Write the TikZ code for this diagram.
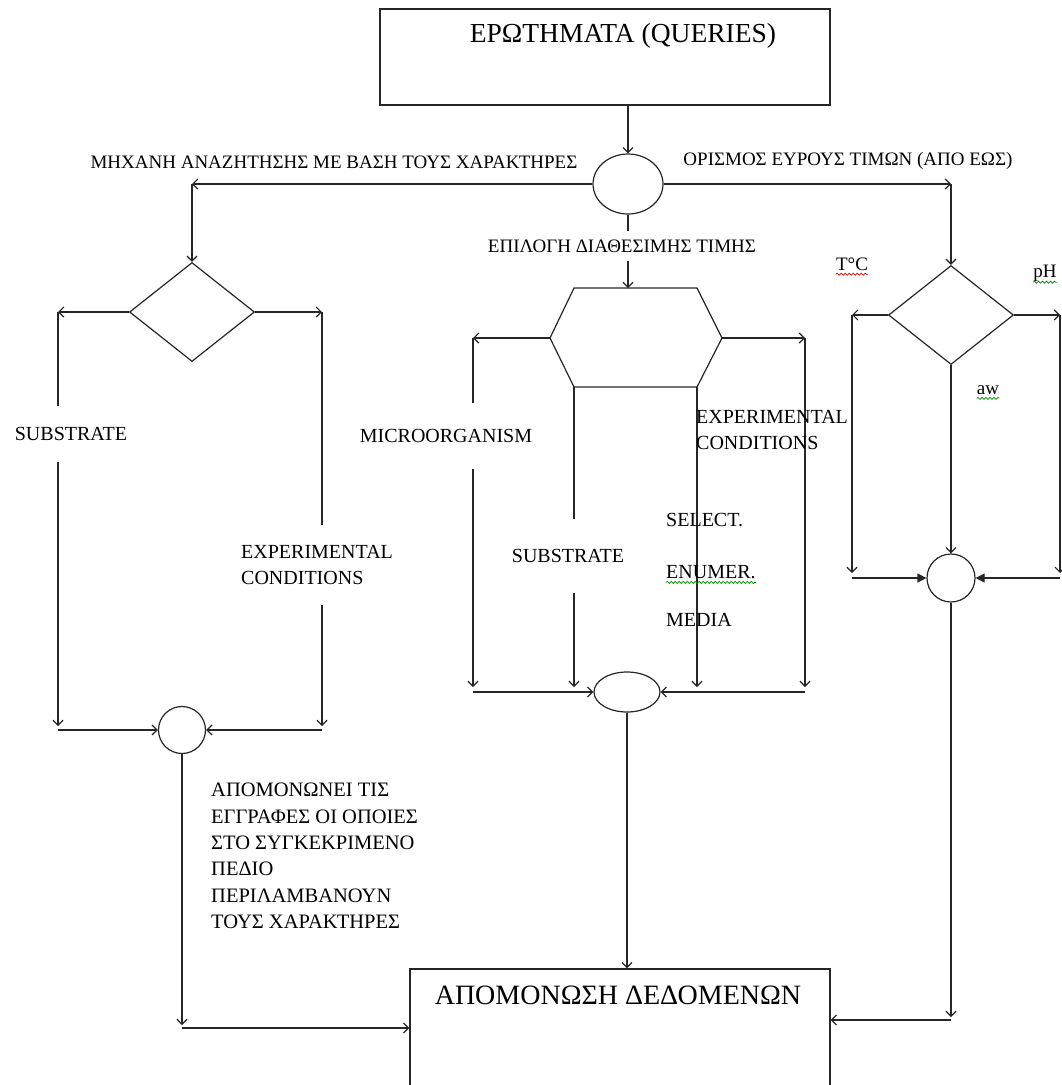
\documentclass[tikz,border=0pt]{standalone}
\usepackage{fontspec}
\setmainfont{Liberation Serif}
\usetikzlibrary{arrows.meta,shapes.geometric,calc,decorations.pathmorphing}

\begin{document}
\begin{tikzpicture}[x=1pt,y=-1pt,
  conn/.style={line width=1.2pt,draw=black!85},
  arr/.style={conn,-{Straight Barb[length=5pt,width=10pt,line width=1.2pt]}},
  arrf/.style={conn,-{Triangle[length=9pt,width=9pt]}},
  box/.style={conn,rectangle,inner sep=0pt},
  junction/.style={conn,ellipse,inner sep=0pt},
  choice/.style={conn,diamond,inner sep=0pt,minimum width=125pt,minimum height=99pt},
  lbl/.style={font=\fontsize{19}{25}\selectfont,inner sep=0pt,text=black},
  lblL/.style={font=\fontsize{20}{26}\selectfont,inner sep=0pt,text=black},
  mask/.style={fill=white},
  wavy/.style={line width=0.7pt,decorate,decoration={snake,amplitude=1.1pt,segment length=4pt}},
]
\clip (0,0) rectangle (1062,1085);
\fill[white] (0,0) rectangle (1062,1085);

% ---- start: queries box and hub
\node[box,minimum width=450pt,minimum height=96pt] (queries) at (605,57) {};
\node[font=\fontsize{27.5}{32}\selectfont] (qtext) at (623,36) {ΕΡΩΤΗΜΑΤΑ (QUERIES)};
\node[junction,minimum width=70pt,minimum height=60pt] (hub) at (628,184) {};
\draw[arr] (queries.south -| hub) -- (hub.north);

% ---- result box
\node[box,minimum width=420pt,minimum height=132pt] (out) at (620,1035) {};
\node[font=\fontsize{28}{33}\selectfont] (outtext) at (618,995) {ΑΠΟΜΟΝΩΣΗ ΔΕΔΟΜΕΝΩΝ};

% ---- left branch: text search
\coordinate (lturn) at (192,184);
\node[choice] (dl) at (192,312) {};
\draw[arr] (hub.west) -- (lturn);
\draw[arr] (lturn) -- (dl.north);
\coordinate (dlL) at (58,312);
\coordinate (dlR) at (322,312);
\coordinate (dlLb) at (58,726);
\coordinate (dlRb) at (322,726);
\draw[arr] (dl.west) -- (dlL);
\draw[arr] (dl.east) -- (dlR);
\draw[arr] (dlL) -- (dlLb);
\draw[arr] (dlR) -- (dlRb);
\node[junction,minimum size=47pt] (jl) at (182,730) {};
\draw[arr] (jl.west -| dlL) -- (jl.west);
\draw[arr] (jl.east -| dlR) -- (jl.east);
\coordinate (jlb) at (182,1025);
\coordinate (jlh) at (182,1028);
\draw[arr] (jl.south) -- (jlb);
\draw[arr] (jlh) -- (jlh -| out.west);

% ---- middle branch: pick a value
\coordinate (hT)  at (628,288);
\coordinate (hTL) at (574,288);
\coordinate (hTR) at (697,288);
\coordinate (hL)  at (550,338);
\coordinate (hR)  at (722,338);
\coordinate (hBL) at (574,387);
\coordinate (hBR) at (697,387);
\draw[conn] (hTL) -- (hTR) -- (hR) -- (hBR) -- (hBL) -- (hL) -- cycle;
\draw[arr] (hub.south) -- (hT);
\coordinate (hLo) at (473,338);
\coordinate (hRo) at (805,338);
\coordinate (hLob) at (473,687);
\coordinate (hRob) at (805,687);
\coordinate (hBLb) at (574,687);
\coordinate (hBRb) at (697,687);
\draw[arr] (hL) -- (hLo);
\draw[arr] (hR) -- (hRo);
\draw[arr] (hLo) -- (hLob);
\draw[arr] (hRo) -- (hRob);
\draw[arr] (hBL) -- (hBLb);
\draw[arr] (hBR) -- (hBRb);
\node[junction,minimum width=66pt,minimum height=40pt] (jm) at (627,692) {};
\draw[arr] (jm.west -| hLo) -- (jm.west);
\draw[arr] (jm.east -| hRo) -- (jm.east);
\draw[arr] (jm.south) -- (jm.south |- out.north);

% ---- right branch: value range
\coordinate (rturn) at (951,184);
\node[choice] (dr) at (951,315) {};
\draw[arr] (hub.east) -- (rturn);
\draw[arr] (rturn) -- (dr.north);
\coordinate (drL) at (852,315);
\coordinate (drR) at (1060,315);
\coordinate (drLb) at (852,573);
\coordinate (drRb) at (1060,573);
\draw[arr] (dr.west) -- (drL);
\draw[arr] (dr.east) -- (drR);
\draw[arr] (drL) -- (drLb);
\draw[arr] (drR) -- (drRb);
\node[junction,minimum size=48pt] (jr) at (951,578) {};
\draw[arrf] (jr.west -| drL) -- (jr.west);
\draw[arrf] (jr.east -| drR) -- (jr.east);
\draw[arr] (dr.south) -- (jr.north);
\coordinate (jrb) at (951,1017);
\coordinate (jrh) at (951,1020);
\draw[arr] (jr.south) -- (jrb);
\draw[arr] (jrh) -- (jrh -| out.east);

% ---- labels
\node[lbl] (search) at (334,162) {ΜΗΧΑΝΗ ΑΝΑΖΗΤΗΣΗΣ ΜΕ ΒΑΣΗ ΤΟΥΣ ΧΑΡΑΚΤΗΡΕΣ};
\node[lbl] (range) at (848,161) {ΟΡΙΣΜΟΣ ΕΥΡΟΥΣ ΤΙΜΩΝ (ΑΠΟ ΕΩΣ)};
\node[lbl,mask,inner ysep=9pt,inner xsep=3pt] (pick) at (622,246) {ΕΠΙΛΟΓΗ ΔΙΑΘΕΣΙΜΗΣ ΤΙΜΗΣ};

\node[lblL,mask,inner ysep=21pt,inner xsep=4pt] (subA) at (71,434) {SUBSTRATE};
\node[lblL,mask,anchor=west,align=left,inner ysep=20pt,inner xsep=3pt] (expA) at (238,565) {EXPERIMENTAL\\CONDITIONS};

\node[lblL,mask,inner ysep=26pt,inner xsep=3pt] (micro) at (446,436) {MICROORGANISM};
\node[lblL,mask,inner ysep=30pt,inner xsep=3pt] (subB) at (568,556) {SUBSTRATE};
\node[lblL,anchor=west,align=left] (expB) at (696,430) {EXPERIMENTAL\\CONDITIONS};
\node[lblL,anchor=west] (sel) at (666,520) {SELECT.};
\node[lblL,anchor=west] (enu) at (666,572) {ENUMER.};
\node[lblL,anchor=west] (med) at (666,620) {MEDIA};

\node[lbl] (temp) at (852,264) {T°C};
\node[lbl] (ph) at (1045,273) {pH};
\node[lbl] (aw) at (988,390) {aw};

\node[lbl,anchor=north west,align=left,font=\fontsize{20.5}{26.4}\selectfont] (note) at (211,783)
  {ΑΠΟΜΟΝΩΝΕΙ ΤΙΣ\\ΕΓΓΡΑΦΕΣ ΟΙ ΟΠΟΙΕΣ\\ΣΤΟ ΣΥΓΚΕΚΡΙΜΕΝΟ\\ΠΕΔΙΟ\\ΠΕΡΙΛΑΜΒΑΝΟΥΝ\\ΤΟΥΣ ΧΑΡΑΚΤΗΡΕΣ};

% ---- spell-check underlines
\draw[wavy,red!85!black] ($(temp.base west)+(0,4)$) -- ($(temp.base east)+(0,4)$);
\draw[wavy,green!55!black] ($(ph.base west)+(0,5)$) -- ($(ph.base east)+(0,5)$);
\draw[wavy,green!55!black] ($(aw.base west)+(0,4)$) -- ($(aw.base east)+(0,4)$);
\draw[wavy,green!55!black] ($(enu.base west)+(0,4)$) -- ($(enu.base east)+(0,4)$);
\end{tikzpicture}
\end{document}
